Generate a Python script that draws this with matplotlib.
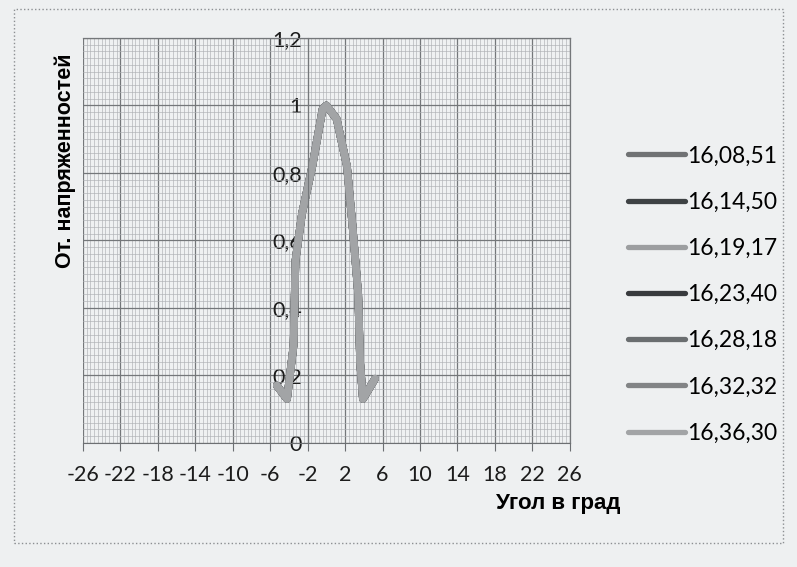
import numpy as np
import matplotlib
matplotlib.use('Agg')
import matplotlib.pyplot as plt
from matplotlib.patches import Rectangle

# values (all seven runs lie on top of each other)
angle = [-5.3, -4.2, -3.5, -3.3, -2.6, -1.5, -0.4, 0.0, 1.1, 2.2, 2.8, 3.4, 3.6, 3.9, 5.2]
intensity = [0.17, 0.13, 0.29, 0.54, 0.68, 0.82, 0.99, 1.0, 0.96, 0.82, 0.64, 0.44, 0.24, 0.13, 0.19]
series = ['16,08,51', '16,14,50', '16,19,17', '16,23,40', '16,28,18', '16,32,32', '16,36,30']
colors = ['#707274', '#3e4244', '#9c9ea0', '#383b3e', '#6a6e70', '#828486', '#a2a4a6']
xticks = list(range(-26, 27, 4))
yticks = [0, 0.2, 0.4, 0.6, 0.8, 1.0, 1.2]
ytick_labels = ['0', '0,2', '0,4', '0,6', '0,8', '1', '1,2']

plt.rcParams['axes.unicode_minus'] = False
bg = '#eef0f1'
tick_font = ['Lato', 'DejaVu Sans']
bold_font = ['Liberation Sans', 'DejaVu Sans']

fig = plt.figure(figsize=(7.97, 5.67), dpi=100, facecolor=bg)
ax = fig.add_axes([0.104, 0.219, 0.611, 0.714])
ax.set_facecolor('#eff1f2')

for name, c in zip(series, colors):
    ax.plot(angle, intensity, color=c, lw=5.5, solid_joinstyle='round',
            solid_capstyle='round', label=name)

ax.set_xlim(-26, 26); ax.set_ylim(0, 1.2)
ax.set_xticks(xticks)
ax.set_xticks(np.arange(-26, 26.01, 0.4), minor=True)
ax.set_yticks(yticks)
ax.set_yticks(np.arange(0, 1.2001, 0.02), minor=True)
ax.set_yticklabels(ytick_labels)
ax.grid(which='major', color='#74777a', lw=0.9)
ax.grid(which='minor', color='#aeb1b4', lw=0.45)
ax.set_axisbelow(True)

ax.spines['left'].set_position(('data', -2))
ax.spines['left'].set_color('#74777a')
for s in ['top', 'right']:
    ax.spines[s].set_color('#74777a'); ax.spines[s].set_linewidth(0.9)
ax.spines['bottom'].set_color('#6c6f72')
ax.tick_params(axis='x', which='major', length=6, color='#6c6f72', pad=10)
ax.tick_params(axis='y', which='major', length=0, pad=4)
ax.tick_params(which='minor', length=0)
for lab in ax.get_xticklabels() + ax.get_yticklabels():
    lab.set_family(tick_font); lab.set_fontsize(15.5); lab.set_color('#1c1c1c')

fig.text(0.082, 0.716, 'От. напряженностей', rotation=90, ha='center', va='center',
         family=bold_font, fontweight='bold', fontsize=15.5)
fig.text(0.779, 0.112, 'Угол в град', ha='right', va='center',
         family=bold_font, fontweight='bold', fontsize=16)

leg = fig.legend(loc='upper left', bbox_to_anchor=(0.762, 0.78), frameon=False,
                 prop={'family': tick_font, 'size': 16.5}, handlelength=2.5,
                 handletextpad=0.1, labelspacing=1.1)
for h in leg.get_lines():
    h.set_linewidth(3.8)

fig.patches.append(Rectangle((0.018, 0.042), 0.964, 0.942, transform=fig.transFigure,
                             fill=False, ec='#8c8f92', lw=1.0, ls=':'))

fig.savefig('out.png', dpi=100, facecolor=bg)
